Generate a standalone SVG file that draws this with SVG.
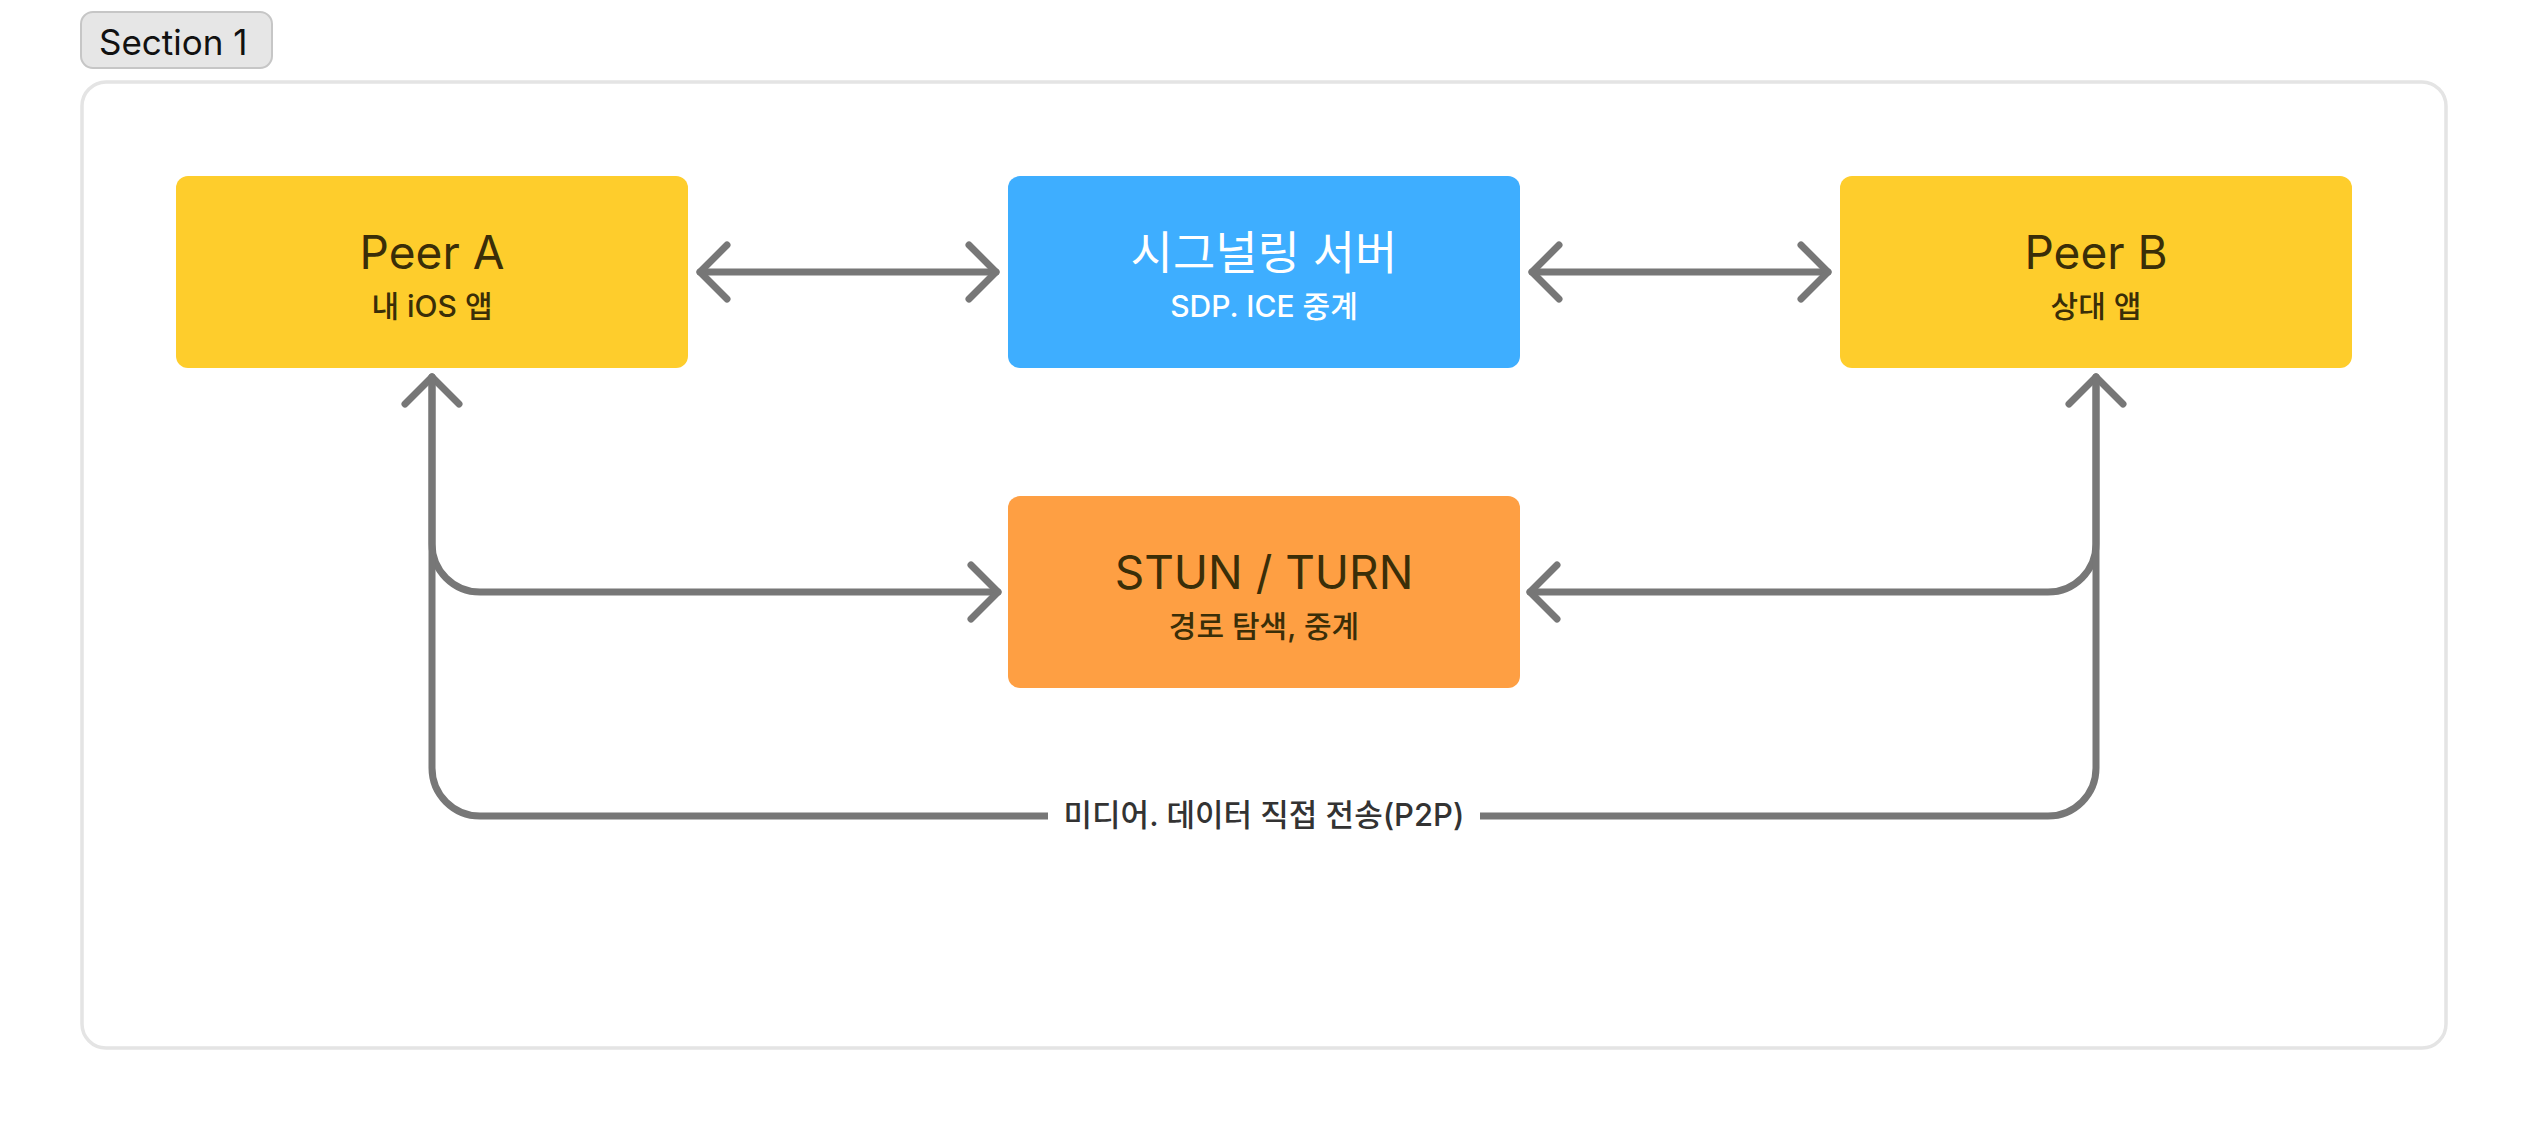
<svg xmlns="http://www.w3.org/2000/svg" width="2528" height="1130" viewBox="0 0 2528 1130">
<style>
  .t { font-family: Inter, "Noto Sans CJK KR", sans-serif; text-anchor: middle; }
  .title { font-size: 46px; font-weight: 400; }
  .sub { font-size: 30px; font-weight: 500; }
  .dark { fill: #3a2e08; }
  .light { fill: #ffffff; }
  .conn { fill: none; stroke: #777777; stroke-width: 7; stroke-linecap: round; stroke-linejoin: round; }
</style>
<defs>
  <marker id="chev" markerUnits="userSpaceOnUse" markerWidth="80" markerHeight="80" viewBox="-40 -40 80 80" refX="0" refY="0" orient="auto-start-reverse">
    <path d="M-27,-27 L0,0 L-27,27" fill="none" stroke="#777777" stroke-width="7" stroke-linecap="round" stroke-linejoin="round"/>
  </marker>
</defs>
<rect width="2528" height="1130" fill="#ffffff"/>
<g id="section">
  <rect x="82" y="82" width="2364" height="966" rx="24" fill="#ffffff" stroke="#e4e4e4" stroke-width="3.5"/>
  <rect x="81" y="12" width="191" height="56" rx="12" fill="#e6e6e6" stroke="#c6c6c6" stroke-width="2"/>
  <text x="99" y="55" font-family="Inter, sans-serif" font-size="35" fill="#111111">Section 1</text>
</g>
<g id="connectors">
  <path class="conn" d="M700,272 L996,272" marker-start="url(#chev)" marker-end="url(#chev)"/>
  <path class="conn" d="M1532,272 L1828,272" marker-start="url(#chev)" marker-end="url(#chev)"/>
  <path class="conn" d="M432,377 L432,544 A48,48 0 0 0 480,592 L998,592" marker-start="url(#chev)" marker-end="url(#chev)"/>
  <path class="conn" d="M2096,377 L2096,544 A48,48 0 0 1 2048,592 L1530,592" marker-start="url(#chev)" marker-end="url(#chev)"/>
  <path class="conn" d="M432,377 L432,768 A48,48 0 0 0 480,816 L2048,816 A48,48 0 0 0 2096,768 L2096,377"/>
  <rect x="1048" y="790" width="432" height="52" fill="#ffffff"/>
  <text class="t" x="1264" y="826" font-size="31" font-weight="500" fill="#333333">미디어. 데이터 직접 전송(P2P)</text>
</g>
<g id="peer-a">
  <rect x="176" y="176" width="512" height="192" rx="12" fill="#fecd2c"/>
  <text class="t title dark" x="432" y="269">Peer A</text>
  <text class="t sub dark" x="432" y="317">내 iOS 앱</text>
</g>
<g id="signaling">
  <rect x="1008" y="176" width="512" height="192" rx="12" fill="#3eaeff"/>
  <text class="t title light" x="1264" y="269">시그널링 서버</text>
  <text class="t sub light" x="1264" y="317">SDP. ICE 중계</text>
</g>
<g id="peer-b">
  <rect x="1840" y="176" width="512" height="192" rx="12" fill="#fecd2c"/>
  <text class="t title dark" x="2096" y="269">Peer B</text>
  <text class="t sub dark" x="2096" y="317">상대 앱</text>
</g>
<g id="stun-turn">
  <rect x="1008" y="496" width="512" height="192" rx="12" fill="#fe9f43"/>
  <text class="t title dark" x="1264" y="589">STUN / TURN</text>
  <text class="t sub dark" x="1264" y="637">경로 탐색, 중계</text>
</g>
</svg>
